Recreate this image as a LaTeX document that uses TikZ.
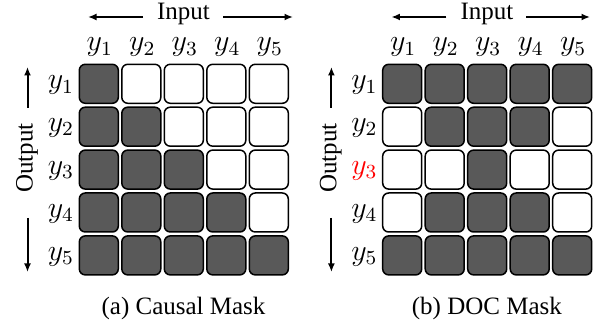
\documentclass[tikz,border=0pt]{standalone}
\usepackage[no-math]{fontspec}
\setmainfont{Liberation Serif}
\usetikzlibrary{arrows.meta}
\definecolor{cellfill}{RGB}{89,89,89}
\newcommand{\yy}[1]{\ensuremath{\mathit{y}_{#1}}}
\begin{document}
\begin{tikzpicture}[x=0.4pt,y=-0.4pt,
  cell/.style={draw=black, line width=0.6pt, rounded corners=2.4pt, minimum size=15.6pt, inner sep=0pt},
  s0/.style={fill=white},
  s1/.style={fill=cellfill},
  lbl/.style={inner sep=0pt, font=\normalsize},
  ylbl/.style={inner sep=0pt, font=\large},
  arr/.style={line width=0.8pt, -{Latex[length=3.4pt,width=2.8pt]}}
]
\useasboundingbox (0,0) rectangle (597,324);

% ---------- panel (a) ----------
\foreach \r in {1,...,5}{
  \foreach \c in {1,...,5}{
    \pgfmathtruncatemacro{\v}{\c<=\r ? 1 : 0}
    \node[cell, s\v] (a-\r-\c) at ({98.8+42.5*(\c-1)},{83.8+42.9*(\r-1)}) {};
  }
  \node[ylbl] (ar\r) at (61,{85+42.9*(\r-1)}) {$y_{\r}$};
  \node[ylbl] (ac\r) at ({99.8+42.5*(\r-1)},47) {$y_{\r}$};
}
\node[lbl] (ainput) at (183.5,14) {Input};
\coordinate (aleft) at (88,17);
\coordinate (aright) at (293,17);
\draw[arr] (143,17) -- (aleft);
\draw[arr] (223,17) -- (aright);
\node[lbl, rotate=90] (aoutput) at (27,158) {Output};
\coordinate (aup) at (27.5,67);
\coordinate (adown) at (27.5,272);
\draw[arr] (27.5,108) -- (aup);
\draw[arr] (27.5,218) -- (adown);
\node[lbl] (acap) at (183.5,308) {(a) Causal Mask};

% ---------- panel (b) ----------
\foreach \r/\row in {1/{1,1,1,1,1},2/{0,1,1,1,0},3/{0,0,1,0,0},4/{0,1,1,1,0},5/{1,1,1,1,1}}{
  \foreach \v [count=\c] in \row{
    \node[cell, s\v] (b-\r-\c) at ({402.2+42.5*(\c-1)},{83.8+42.9*(\r-1)}) {};
  }
  \node[ylbl] (bc\r) at ({403.2+42.5*(\r-1)},47) {$y_{\r}$};
}
\foreach \r in {1,2,4,5}{
  \node[ylbl] (br\r) at (364.4,{85+42.9*(\r-1)}) {$y_{\r}$};
}
\node[ylbl, text=red] (br3) at (364.4,{85+42.9*2}) {$y_{3}$};
\node[lbl] (binput) at (486.9,14) {Input};
\coordinate (bleft) at (391.4,17);
\coordinate (bright) at (590,17);
\draw[arr] (446.4,17) -- (bleft);
\draw[arr] (526.4,17) -- (bright);
\node[lbl, rotate=90] (boutput) at (330.8,158) {Output};
\coordinate (bup) at (331.4,67);
\coordinate (bdown) at (331.4,272);
\draw[arr] (331.4,108) -- (bup);
\draw[arr] (331.4,218) -- (bdown);
\node[lbl] (bcap) at (486.9,308) {(b) DOC Mask};
\end{tikzpicture}
\end{document}
